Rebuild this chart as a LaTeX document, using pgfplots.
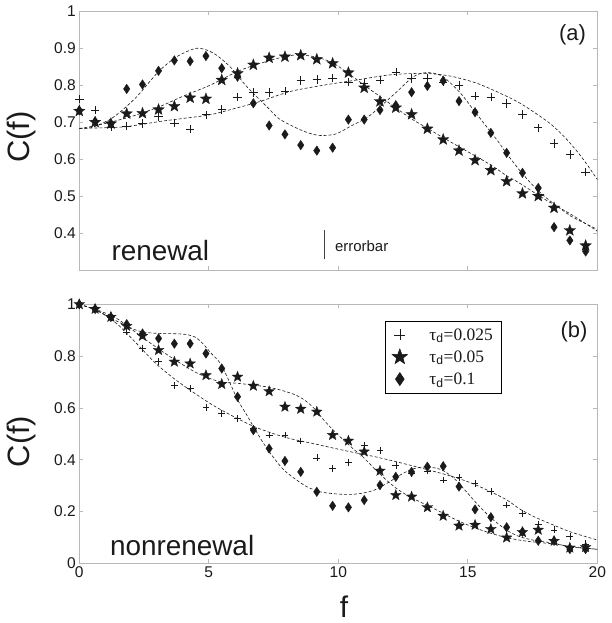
\documentclass[border=0pt]{standalone}
\usepackage{fontspec}
\setmainfont{Liberation Sans}
\setsansfont{Liberation Sans}
\newfontfamily\legfont{Liberation Serif}
\usepackage{pgfplots}
\usepackage{pgfplotstable}
\pgfplotsset{compat=1.18}

\pgfdeclareplotmark{fstar}{%
\pgfpathmoveto{\pgfpointpolar{90}{\pgfplotmarksize}}%
\pgfpathlineto{\pgfpointpolar{126}{0.42\pgfplotmarksize}}%
\pgfpathlineto{\pgfpointpolar{162}{\pgfplotmarksize}}%
\pgfpathlineto{\pgfpointpolar{198}{0.42\pgfplotmarksize}}%
\pgfpathlineto{\pgfpointpolar{234}{\pgfplotmarksize}}%
\pgfpathlineto{\pgfpointpolar{270}{0.42\pgfplotmarksize}}%
\pgfpathlineto{\pgfpointpolar{306}{\pgfplotmarksize}}%
\pgfpathlineto{\pgfpointpolar{342}{0.42\pgfplotmarksize}}%
\pgfpathlineto{\pgfpointpolar{18}{\pgfplotmarksize}}%
\pgfpathlineto{\pgfpointpolar{54}{0.42\pgfplotmarksize}}%
\pgfpathclose\pgfusepathqfillstroke}
\pgfdeclareplotmark{tdiam}{%
\pgfpathmoveto{\pgfqpoint{0pt}{\pgfplotmarksize}}%
\pgfpathlineto{\pgfqpoint{0.67\pgfplotmarksize}{0pt}}%
\pgfpathlineto{\pgfqpoint{0pt}{-\pgfplotmarksize}}%
\pgfpathlineto{\pgfqpoint{-0.67\pgfplotmarksize}{0pt}}%
\pgfpathclose\pgfusepathqfillstroke}

\definecolor{ink}{HTML}{1A1A1A}
\definecolor{axgray}{HTML}{B8B8B8}

% top panel (renewal): f, plus (0.025), star (0.05), diamond (0.1)
\pgfplotstableread{
f p s d
0.00 0.762 0.730 0.732
0.61 0.733 0.700 0.702
1.22 0.687 0.696 0.696
1.83 0.689 0.723 0.790
2.44 0.696 0.724 0.802
3.06 0.715 0.734 0.839
3.67 0.698 0.743 0.867
4.28 0.682 0.766 0.865
4.89 0.720 0.763 0.879
5.50 0.734 0.814 0.846
6.11 0.768 0.832 0.823
6.72 0.780 0.855 0.751
7.33 0.780 0.874 0.691
7.94 0.784 0.877 0.667
8.55 0.813 0.881 0.638
9.17 0.815 0.870 0.623
9.78 0.819 0.859 0.631
10.39 0.809 0.834 0.707
11.00 0.805 0.793 0.707
11.61 0.814 0.756 0.733
12.22 0.836 0.739 0.746
12.83 0.818 0.721 0.781
13.44 0.818 0.682 0.798
14.05 0.809 0.653 0.812
14.66 0.799 0.623 0.757
15.28 0.771 0.597 0.727
15.89 0.768 0.570 0.671
16.50 0.750 0.540 0.617
17.11 0.721 0.507 0.563
17.72 0.685 0.500 0.522
18.33 0.642 0.468 0.416
18.94 0.612 0.407 0.380
19.55 0.565 0.366 0.350
}\toptable

% bottom panel (nonrenewal)
\pgfplotstableread{
f p s d
0.00 1.000 1.000 1.000
0.61 0.980 0.982 0.982
1.22 0.950 0.951 0.951
1.83 0.893 0.916 0.923
2.44 0.830 0.878 0.887
3.06 0.778 0.823 0.868
3.67 0.688 0.778 0.848
4.28 0.675 0.771 0.848
4.89 0.602 0.726 0.810
5.50 0.578 0.692 0.752
6.11 0.559 0.720 0.643
6.72 0.520 0.685 0.514
7.33 0.495 0.664 0.443
7.94 0.495 0.604 0.395
8.55 0.472 0.596 0.353
9.17 0.407 0.585 0.276
9.78 0.366 0.495 0.222
10.39 0.390 0.473 0.216
11.00 0.454 0.431 0.244
11.61 0.437 0.357 0.302
12.22 0.377 0.263 0.334
12.83 0.347 0.257 0.353
13.44 0.356 0.216 0.373
14.05 0.322 0.183 0.375
14.66 0.332 0.145 0.296
15.28 0.309 0.148 0.208
15.89 0.277 0.132 0.178
16.50 0.225 0.099 0.139
17.11 0.193 0.120 0.122
17.72 0.152 0.129 0.087
18.33 0.129 0.086 0.087
18.94 0.105 0.060 0.055
19.55 0.075 0.062 0.055
}\bottable

\pgfplotsset{
  base/.style={
    scale only axis, width=518bp, anchor=south west,
    xmin=0, xmax=20, xtick={0,5,10,15,20},
    tick align=inside, major tick length=4bp,
    axis line style={axgray, line width=0.8bp},
    every tick/.style={axgray, line width=0.7bp},
    tick label style={font=\fontsize{15.6}{18}\selectfont, text=ink},
    /pgf/number format/assume math mode=true,
    clip=false,
  },
  fit/.style={ink, line width=0.6bp, dash pattern=on 3bp off 2bp, smooth, tension=0.5},
  mplus/.style={only marks, mark=+, mark size=4.2bp, mark options={ink, line width=0.6bp}},
  mstar/.style={only marks, mark=fstar, mark size=6bp, mark options={ink, fill=ink, line width=0.3bp}},
  mdiam/.style={only marks, mark=tdiam, mark size=4.8bp, mark options={ink, fill=ink, line width=0.3bp}},
}

\begin{document}
\begin{tikzpicture}
\path[use as bounding box] (0bp,0bp) rectangle (612bp,623bp);

% ---------------- top panel ----------------
\begin{axis}[base, at={(79.3bp,353bp)}, height=258.7bp,
  ymin=0.3, ymax=1, ytick={0.4,0.5,0.6,0.7,0.8,0.9,1},
  yticklabels={0.4,0.5,0.6,0.7,0.8,0.9,1}, xticklabels={}]
\addplot[fit] coordinates {(0,0.683) (1,0.685) (1.83,0.688) (3.12,0.702) (4,0.71) (5.05,0.72) (6,0.737) (6.98,0.756) (8.14,0.783) (9.43,0.80) (10.7,0.814) (12.0,0.828) (13.3,0.832) (14.3,0.825) (15.36,0.805) (16.38,0.774) (17.0,0.752) (17.6,0.725) (18.2,0.695) (18.8,0.655) (19.4,0.605) (20,0.545)};
\addplot[fit] coordinates {(0,0.683) (0.6,0.69) (1.2,0.70) (2,0.715) (3.1,0.742) (4,0.77) (5.05,0.80) (6.2,0.84) (7.4,0.868) (8.14,0.880) (8.6,0.882) (9.2,0.875) (9.8,0.86) (10.46,0.828) (11.0,0.80) (11.62,0.769) (12.2,0.74) (12.8,0.71) (13.43,0.684) (14.0,0.66) (15.0,0.62) (15.87,0.585) (16.5,0.555) (17.0,0.535) (18.0,0.49) (19.0,0.45) (20,0.405)};
\addplot[fit] coordinates {(0,0.683) (0.5,0.686) (1.2,0.708) (1.7,0.735) (2.22,0.769) (2.7,0.808) (3.12,0.841) (3.76,0.877) (4.54,0.90) (5.17,0.887) (5.82,0.85) (6.47,0.796) (7.24,0.742) (7.7,0.71) (8.27,0.688) (8.8,0.672) (9.3,0.664) (9.9,0.668) (10.5,0.69) (11.1,0.712) (11.62,0.742) (12.3,0.785) (12.9,0.823) (13.4,0.834) (14.0,0.825) (14.7,0.78) (15.2,0.735) (15.7,0.69) (16.2,0.645) (16.5,0.615) (17.0,0.57) (17.5,0.53) (18.0,0.497) (18.5,0.47) (19.0,0.445) (19.5,0.427) (20,0.41)};
\addplot[mplus] table[x=f, y=p] {\toptable};
\addplot[mstar] table[x=f, y=s] {\toptable};
\addplot[mdiam] table[x=f, y=d] {\toptable};
\addplot[black!75, line width=0.9bp] coordinates {(9.47,0.331) (9.47,0.409)};
\node[anchor=base, text=ink, font=\fontsize{28}{30}\selectfont] at (axis cs:3.13,0.326) {renewal};
\node[anchor=base west, inner sep=0pt, text=ink, font=\fontsize{15}{17}\selectfont] at (axis cs:9.87,0.349) {errorbar};
\node[text=ink, font=\fontsize{22}{24}\selectfont] at (axis cs:19.04,0.936) {(a)};
\end{axis}

% ---------------- bottom panel ----------------
\begin{axis}[base, at={(79.3bp,59.7bp)}, height=259bp,
  ymin=0, ymax=1, ytick={0,0.2,0.4,0.6,0.8,1},
  yticklabels={0,0.2,0.4,0.6,0.8,1},
  xticklabels={0,5,10,15,20},
  legend cell align=left,
  legend style={at={(0.59,0.937)}, anchor=north west, draw=black, line width=0.6bp,
    fill=white, font=\legfont\fontsize{17.5}{20}\selectfont, text=ink,
    inner xsep=7bp, inner ysep=5.5bp, row sep=5bp,
    /tikz/every odd column/.append style={column sep=20bp}}]
\addlegendimage{only marks, mark=+, mark size=5.5bp, mark options={ink, line width=0.5bp}}
\addlegendentry{τ\textsubscript{\sffamily d}=0.025\hspace{8bp}}
\addlegendimage{only marks, mark=fstar, mark size=8bp, mark options={ink, fill=ink}}
\addlegendentry{τ\textsubscript{\sffamily d}=0.05}
\addlegendimage{only marks, mark=tdiam, mark size=6.5bp, mark options={ink, fill=ink}}
\addlegendentry{τ\textsubscript{\sffamily d}=0.1}
\addplot[fit, forget plot] coordinates {(0,1.0) (0.7,0.975) (1.45,0.925) (2.2,0.85) (2.96,0.771) (3.7,0.71) (4.46,0.656) (5.2,0.608) (5.97,0.566) (6.7,0.53) (7.48,0.501) (8.2,0.48) (9.0,0.463) (9.8,0.445) (10.5,0.43) (11.3,0.414) (12.0,0.398) (12.8,0.378) (13.5,0.36) (14.3,0.338) (15.0,0.315) (15.7,0.285) (16.5,0.245) (17.0,0.21) (17.6,0.178) (18.3,0.148) (19.0,0.12) (20,0.09)};
\addplot[fit, forget plot] coordinates {(0,1) (0.7,0.978) (1.45,0.945) (2.2,0.89) (2.96,0.835) (3.7,0.785) (4.46,0.739) (5.0,0.715) (5.5,0.70) (6.1,0.695) (6.73,0.688) (7.3,0.68) (7.8,0.668) (8.3,0.652) (8.7,0.63) (9.1,0.595) (9.44,0.553) (9.8,0.515) (10.2,0.476) (10.6,0.44) (10.95,0.411) (11.4,0.365) (11.86,0.321) (12.3,0.285) (12.76,0.257) (13.3,0.23) (13.8,0.206) (14.4,0.175) (15.0,0.148) (15.7,0.122) (16.5,0.099) (17.3,0.085) (18.3,0.075) (19.0,0.065) (20,0.054)};
\addplot[fit, forget plot] coordinates {(0,1) (0.7,0.975) (1.45,0.935) (2.2,0.90) (2.7,0.89) (3.26,0.887) (3.8,0.886) (4.16,0.883) (4.5,0.872) (4.77,0.848) (5.1,0.81) (5.45,0.771) (5.8,0.70) (6.12,0.63) (6.45,0.575) (6.73,0.527) (7.1,0.465) (7.48,0.411) (7.9,0.36) (8.4,0.321) (8.8,0.295) (9.3,0.276) (9.9,0.268) (10.5,0.266) (11.0,0.272) (11.4,0.283) (11.9,0.31) (12.46,0.345) (12.9,0.365) (13.36,0.372) (13.8,0.367) (14.1,0.355) (14.5,0.325) (15.0,0.27) (15.4,0.225) (15.9,0.175) (16.5,0.128) (17.0,0.103) (17.6,0.088) (18.3,0.078) (19.0,0.063) (20,0.054)};
\addplot[mplus, mark size=3.4bp, forget plot] table[x=f, y=p] {\bottable};
\addplot[mstar, mark size=5.6bp, forget plot] table[x=f, y=s] {\bottable};
\addplot[mdiam, forget plot] table[x=f, y=d] {\bottable};
\node[anchor=base, text=ink, font=\fontsize{28}{30}\selectfont] at (axis cs:3.97,0.032) {nonrenewal};
\node[text=ink, font=\fontsize{22}{24}\selectfont] at (axis cs:19.1,0.893) {(b)};
\end{axis}

\node[rotate=90, text=ink, font=\fontsize{31}{33}\selectfont] at (22bp,486bp) {C(f)};
\node[rotate=90, text=ink, font=\fontsize{31}{33}\selectfont] at (22bp,181.5bp) {C(f)};
\node[anchor=base, text=ink, font=\fontsize{30}{32}\selectfont] at (344bp,6bp) {f};
\end{tikzpicture}
\end{document}
